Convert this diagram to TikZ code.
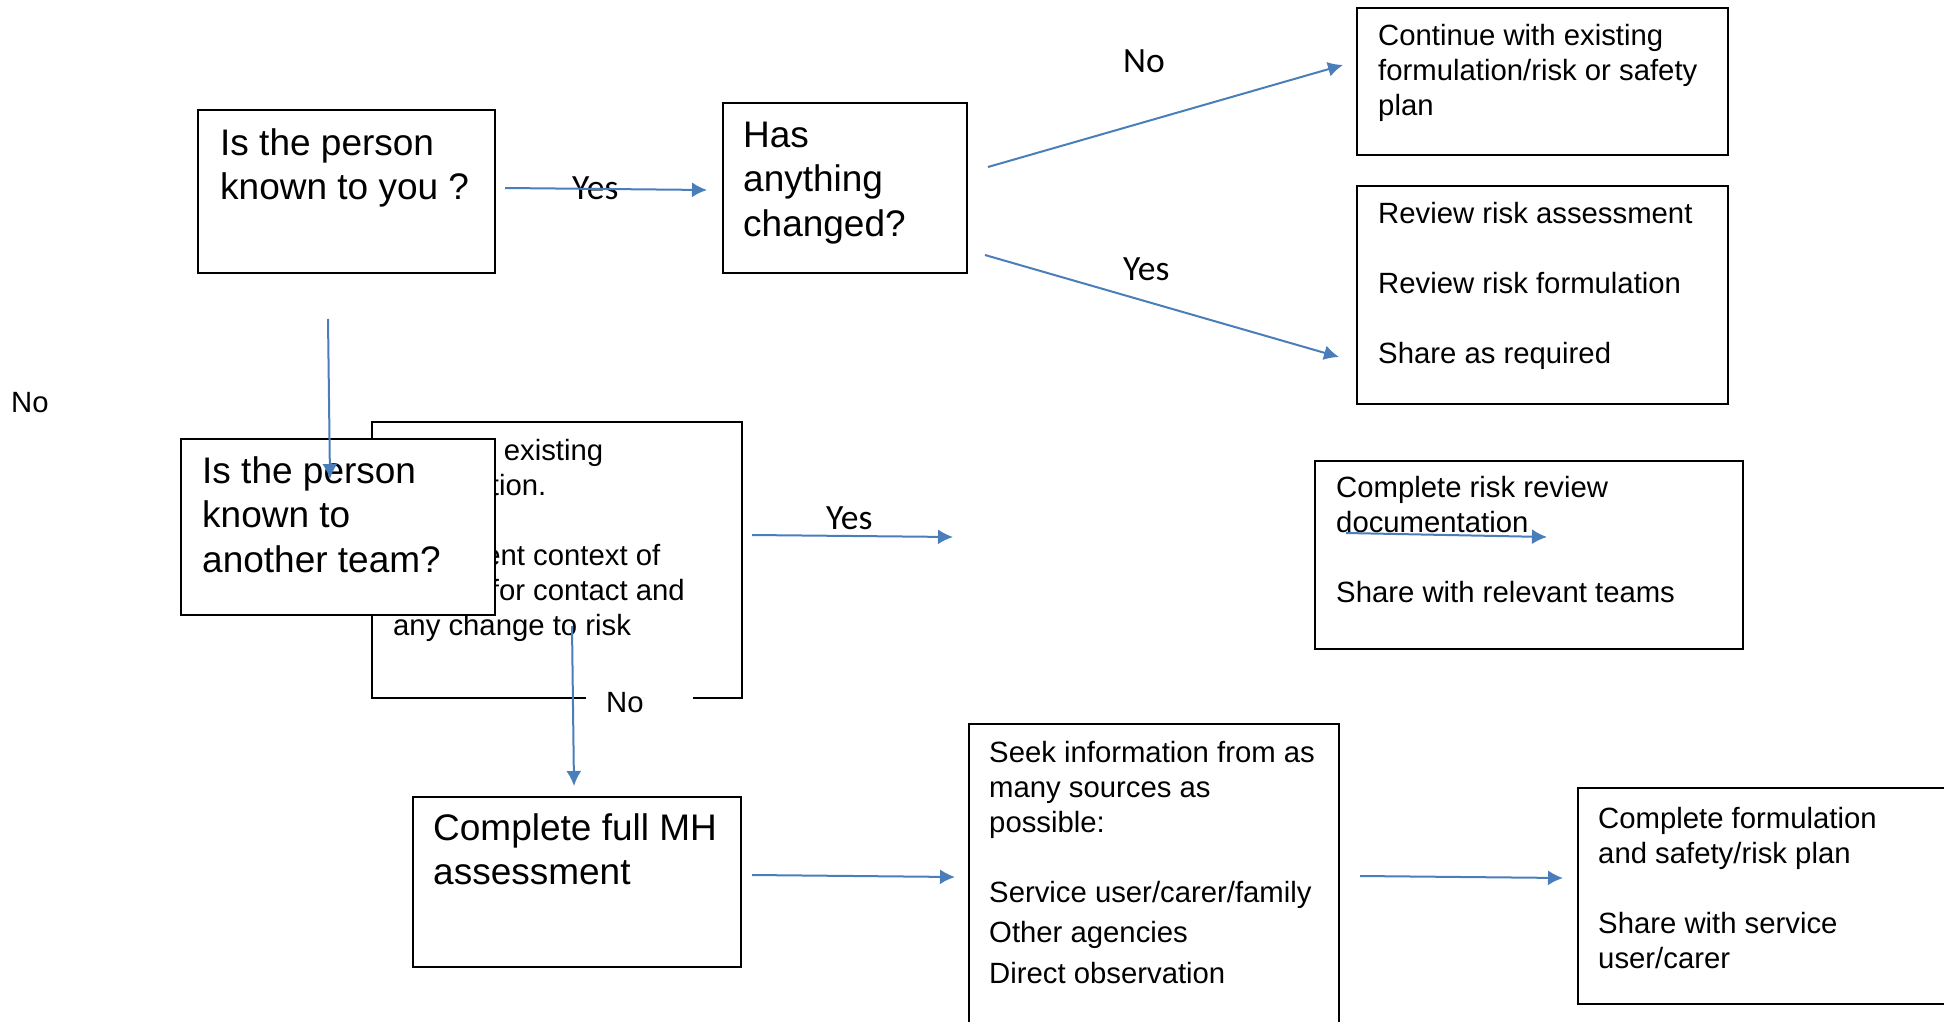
\documentclass[tikz,border=0pt]{standalone}
\usepackage{fontspec}
\setmainfont{Liberation Sans}
\newfontfamily\calibrifont{Carlito}
\usetikzlibrary{calc}
\usetikzlibrary{arrows.meta}

\definecolor{arrowblue}{RGB}{74,126,187}

\begin{document}
\begin{tikzpicture}[>={Latex[length=15pt,width=15pt]}, x=1pt, y=1pt]
\tikzset{box/.style 2 args={draw=black,line width=1.8pt,fill=white,inner sep=0,anchor=north west,minimum width=#1,minimum height=#2}}
\tikzset{bigtxt/.style={anchor=north west,inner sep=0,align=left,font=\fontsize{37}{44.5}\selectfont}}
\tikzset{smalltxt/.style={anchor=north west,inner sep=0,align=left,font=\fontsize{29.3}{35}\selectfont}}
\tikzset{yesno/.style={anchor=base west,inner sep=0,font=\calibrifont\fontsize{35.5}{40}\selectfont}}
\tikzset{flow/.style={->,draw=arrowblue,line width=2pt}}

\useasboundingbox (0,0) rectangle (1944,-1022);
\clip (0,0) rectangle (1944,-1022);

% top row
\node[box={297}{163}] (known) at (197,-109) {};
\node[bigtxt] (knowntxt) at ($(known.north west)+(23,-15)$) {\strut Is the person\\known to you ?};
\node[box={244}{170}] (changed) at (722,-102) {};
\node[bigtxt] (changedtxt) at ($(changed.north west)+(21,-14)$) {\strut Has\\anything\\changed?};
\node[box={371}{147}] (cont) at (1356,-7) {};
\node[smalltxt] (conttxt) at ($(cont.north west)+(22,-14)$) {\strut Continue with existing\\formulation/risk or safety\\plan};
\node[box={371}{218}] (review) at (1356,-185) {};
\node[smalltxt] (reviewtxt) at ($(review.north west)+(22,-13.5)$) {\strut Review risk assessment\\[35pt]Review risk formulation\\[35pt]Share as required};

% middle row - the question box sits over the existing box
\node[box={370}{276}] (existing) at (371,-421) {};
\node[smalltxt] (existingtxt) at ($(existing.north west)+(22,-14.5)$) {\strut Discuss existing\\formulation.\\[35pt]All current context of\\reason for contact and\\any change to risk};
\node[box={314}{176}] (other) at (180,-438) {};
\node[bigtxt] (othertxt) at ($(other.north west)+(22,-14)$) {\strut Is the person\\known to\\another team?};
\node[box={428}{188}] (doc) at (1314,-460) {};
\node[smalltxt] (doctxt) at ($(doc.north west)+(22,-12.5)$) {\strut Complete risk review\\documentation\\[35pt]Share with relevant teams};

% bottom row
\node[box={328}{170}] (full) at (412,-796) {};
\node[bigtxt] (fulltxt) at ($(full.north west)+(21,-13)$) {\strut Complete full MH\\assessment};
\node[box={370}{317}] (seek) at (968,-723) {};
\node[smalltxt] (seektxt) at ($(seek.north west)+(21,-14.5)$) {\strut Seek information from as\\many sources as\\possible:\\[35pt]Service user/carer/family\\[5pt]Other agencies\\[6pt]Direct observation};
\node[box={383}{216}] (plan) at (1577,-787) {};
\node[smalltxt] (plantxt) at ($(plan.north west)+(21,-16.5)$) {\strut Complete formulation\\and safety/risk plan\\[35pt]Share with service\\user/carer};

% labels
\node[yesno] (yes1) at (572,-199) {Yes};
\node[yesno] (no1) at (1123,-73) {No};
\node[yesno] (yes2) at (1123,-280) {Yes};
\node[yesno] (yes3) at (826,-529) {Yes};
\node[anchor=base west,inner sep=0,font=\fontsize{29.3}{35}\selectfont] (noleft) at (11,-412) {No};
\node[fill=white,anchor=base west,inner xsep=20pt,inner ysep=5pt,text width=67pt,font=\fontsize{29.3}{35}\selectfont] (noteam) at (586,-712) {No};

% arrow ends
\coordinate (k1) at (505,-188);
\coordinate (k2) at (707,-190);
\coordinate (c1) at (988,-167);
\coordinate (c2) at (1343,-65);
\coordinate (r1) at (985,-255);
\coordinate (r2) at (1339,-357);
\coordinate (d1) at (328,-319);
\coordinate (d2) at (330,-479);
\coordinate (e1) at (752,-535);
\coordinate (e2) at (953,-537);
\coordinate (g1) at (1346,-533);
\coordinate (g2) at (1547,-537);
\coordinate (v1) at (572,-626);
\coordinate (v2) at (574,-786);
\coordinate (f1) at (752,-875);
\coordinate (f2) at (955,-877);
\coordinate (s1) at (1360,-876);
\coordinate (s2) at (1563,-878);

\draw[flow] (k1) -- (k2);
\draw[flow] (c1) -- (c2);
\draw[flow] (r1) -- (r2);
\draw[flow] (d1) -- (d2);
\draw[flow] (e1) -- (e2);
\draw[flow] (g1) -- (g2);
\draw[flow] (v1) -- (v2);
\draw[flow] (f1) -- (f2);
\draw[flow] (s1) -- (s2);

\end{tikzpicture}
\end{document}
